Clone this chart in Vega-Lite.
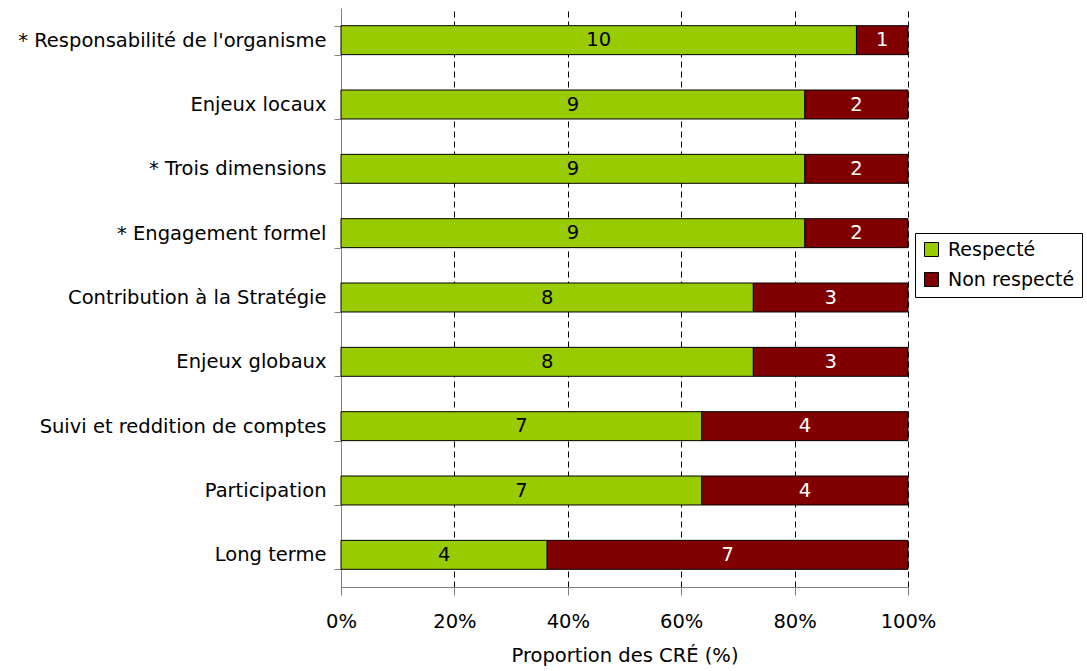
{
  "$schema": "https://vega.github.io/schema/vega-lite/v6.json",
  "width": 567,
  "height": 579,
  "autosize": {"type": "none"},
  "padding": {"left": 341, "top": 8, "right": 179, "bottom": 84},
  "background": "white",
  "config": {
    "font": "DejaVu Sans",
    "view": {"stroke": null},
    "axis": {"labelFont": "DejaVu Sans", "titleFont": "DejaVu Sans", "labelColor": "black", "titleColor": "black", "domainColor": "#808080", "tickColor": "#808080", "labelFontSize": 19.5, "titleFontSize": 19.5, "titleFontWeight": "normal"}
  },
  "data": {
    "values": [
      {"critere": "* Responsabilité de l'organisme", "statut": "Respecté", "n": 10},
      {"critere": "* Responsabilité de l'organisme", "statut": "Non respecté", "n": 1},
      {"critere": "Enjeux locaux", "statut": "Respecté", "n": 9},
      {"critere": "Enjeux locaux", "statut": "Non respecté", "n": 2},
      {"critere": "* Trois dimensions ", "statut": "Respecté", "n": 9},
      {"critere": "* Trois dimensions ", "statut": "Non respecté", "n": 2},
      {"critere": "* Engagement formel", "statut": "Respecté", "n": 9},
      {"critere": "* Engagement formel", "statut": "Non respecté", "n": 2},
      {"critere": "Contribution à la Stratégie", "statut": "Respecté", "n": 8},
      {"critere": "Contribution à la Stratégie", "statut": "Non respecté", "n": 3},
      {"critere": "Enjeux globaux", "statut": "Respecté", "n": 8},
      {"critere": "Enjeux globaux", "statut": "Non respecté", "n": 3},
      {"critere": "Suivi et reddition de comptes", "statut": "Respecté", "n": 7},
      {"critere": "Suivi et reddition de comptes", "statut": "Non respecté", "n": 4},
      {"critere": "Participation ", "statut": "Respecté", "n": 7},
      {"critere": "Participation ", "statut": "Non respecté", "n": 4},
      {"critere": "Long terme", "statut": "Respecté", "n": 4},
      {"critere": "Long terme", "statut": "Non respecté", "n": 7}
    ]
  },
  "encoding": {
    "y": {
      "field": "critere", "type": "nominal", "sort": null,
      "scale": {"paddingInner": 0.55, "paddingOuter": 0.275},
      "axis": {"title": null, "tickBand": "extent", "tickSize": 7, "labelPadding": 8, "labelLimit": 400}
    }
  },
  "layer": [
    {
      "mark": {"type": "bar", "stroke": "black", "strokeWidth": 1},
      "encoding": {
        "x": {
          "field": "n", "type": "quantitative", "stack": "normalize",
          "scale": {"domain": [0, 1]},
          "axis": {"title": "Proportion des CRÉ (%)", "format": "%", "values": [0, 0.2, 0.4, 0.6, 0.8, 1], "labelFlush": false, "grid": true, "gridColor": "black", "gridDash": [6, 4], "gridWidth": 1, "tickSize": 8, "labelPadding": 17, "titlePadding": 16}
        },
        "order": {"field": "statut", "sort": "descending"},
        "color": {
          "field": "statut", "type": "nominal",
          "scale": {"domain": ["Respecté", "Non respecté"], "range": ["#99CC00", "#800000"]},
          "legend": {
            "title": null, "orient": "none", "legendX": 574, "legendY": 225,
            "strokeColor": "#000000", "padding": 7, "rowPadding": 10,
            "symbolType": "square", "symbolSize": 196, "symbolStrokeColor": "black", "symbolStrokeWidth": 1,
            "labelFontSize": 19, "labelFont": "DejaVu Sans", "labelColor": "black", "labelOffset": 7
          }
        }
      }
    },
    {
      "transform": [
        {"stack": "n", "groupby": ["critere"], "offset": "normalize", "sort": [{"field": "statut", "order": "descending"}], "as": ["x0", "x1"]},
        {"calculate": "(datum.x0 + datum.x1) / 2", "as": "xm"}
      ],
      "mark": {"type": "text", "fontSize": 19.5, "font": "DejaVu Sans", "baseline": "middle", "align": "center"},
      "encoding": {
        "x": {"field": "xm", "type": "quantitative"},
        "text": {"field": "n", "type": "quantitative"},
        "color": {"condition": {"test": "datum.statut === 'Respecté'", "value": "black"}, "value": "white"}
      }
    }
  ]
}
